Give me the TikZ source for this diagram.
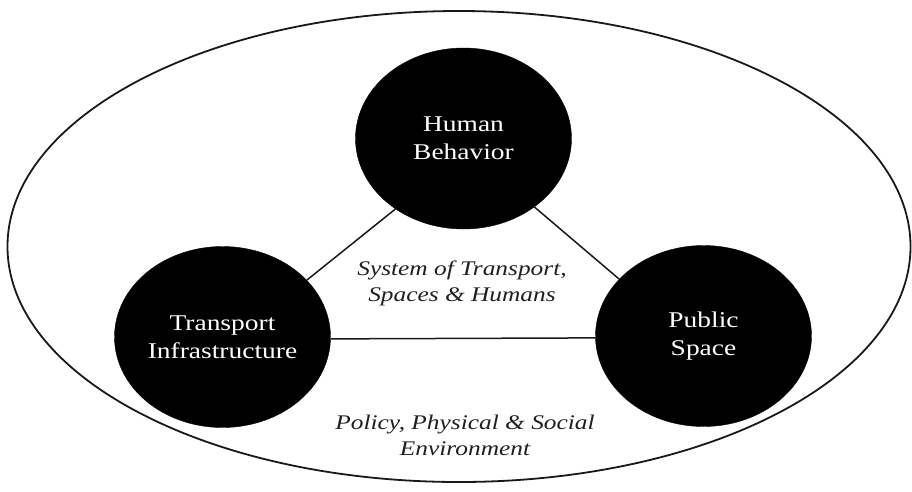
\documentclass[tikz,border=0pt]{standalone}
\usepackage{fontspec}
\setmainfont{Liberation Serif}[FakeStretch=1.22]
\usetikzlibrary{shapes.geometric}
\begin{document}
\begin{tikzpicture}[x=1pt,y=-1pt,
  hub/.style={ellipse,fill=black,draw=black,inner sep=0pt,minimum width=216pt,minimum height=181pt,
    text=white,align=center,font=\fontsize{22.5}{28}\selectfont},
  caption/.style={align=center,font=\fontsize{20.8}{26}\selectfont\itshape,text=black!88},
  link/.style={draw=black!90,line width=1.5pt}]
\useasboundingbox (0,0) rectangle (912,491);
\node[ellipse,draw=black!90,line width=1.8pt,inner sep=0pt,minimum width=903pt,minimum height=471pt] (env) at (459,246.5) {};
\node[hub] (H) at (463.5,138.5) {Human\\Behavior};
\node[hub] (T) at (222.5,337) {Transport\\Infrastructure};
\node[hub] (P) at (703.5,336) {Public\\Space};
\draw[link] (T.34) -- (H.226);
\draw[link] (P.146) -- (H.-44);
\draw[link] (T.-1.5) -- (P.181.5);
\node[caption] (sys) at (462,283) {System of Transport,\\Spaces \& Humans};
\node[caption] (pol) at (465,435) {Policy, Physical \& Social\\Environment};
\end{tikzpicture}
\end{document}
